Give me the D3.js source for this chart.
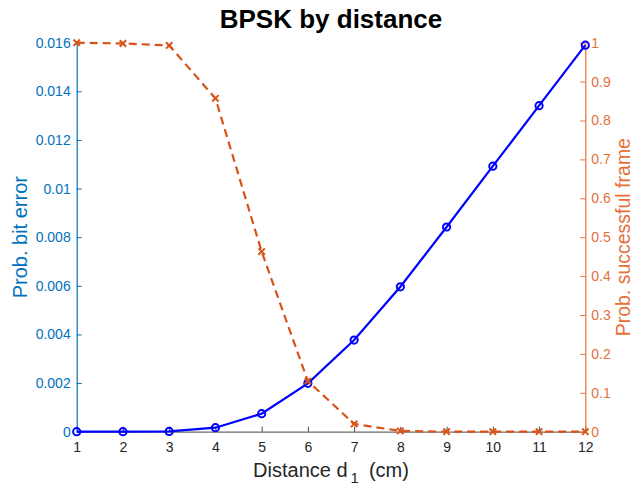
<!DOCTYPE html>
<html>
<head>
<meta charset="utf-8">
<script src="https://cdn.jsdelivr.net/npm/d3@7"></script>
<style>
  html, body { margin: 0; padding: 0; background: #fff; }
  svg { display: block; font-family: "Liberation Sans", Arial, Helvetica, sans-serif; }
</style>
</head>
<body>
<svg id="chart" width="634" height="486"></svg>
<script>
const distances = [1, 2, 3, 4, 5, 6, 7, 8, 9, 10, 11, 12];
const bitError = [0, 0, 0.00001, 0.000165, 0.00074, 0.00199, 0.00377, 0.00596, 0.00842, 0.01092, 0.01341, 0.0159];
const frameSuccess = [1.0, 0.998, 0.993, 0.857, 0.463, 0.13, 0.02, 0.002, 0, 0, 0, 0];
const leftTicks = [0, 0.002, 0.004, 0.006, 0.008, 0.01, 0.012, 0.014, 0.016];
const leftTickLabels = ["0", "0.002", "0.004", "0.006", "0.008", "0.01", "0.012", "0.014", "0.016"];
const rightTicks = [0, 0.1, 0.2, 0.3, 0.4, 0.5, 0.6, 0.7, 0.8, 0.9, 1];
const rightTickLabels = ["0", "0.1", "0.2", "0.3", "0.4", "0.5", "0.6", "0.7", "0.8", "0.9", "1"];
const xTicks = [1, 2, 3, 4, 5, 6, 7, 8, 9, 10, 11, 12];

const margin = { left: 76.7, right: 585.3, top: 42.7, bottom: 431.7 };
const blueAxis = "#0072BD";
const orange = "#D95319";
const orangeAxis = "#E5703A";

const svg = d3.select("#chart");
const x = d3.scaleLinear().domain([1, 12]).range([margin.left, margin.right]);
const yL = d3.scaleLinear().domain([0, 0.016]).range([margin.bottom, margin.top]);
const yR = d3.scaleLinear().domain([0, 1]).range([margin.bottom, margin.top]);

// X axis
const xAxis = d3.axisBottom(x).tickValues(xTicks).tickSizeInner(-5).tickSizeOuter(0).tickPadding(10).tickFormat(d3.format("d"));
const gx = svg.append("g").attr("transform", `translate(0,${margin.bottom})`).call(xAxis);
gx.select(".domain").attr("stroke", "#6b6b6b").attr("stroke-width", 1.2);
gx.selectAll(".tick line").attr("stroke", "#444");
gx.selectAll(".tick text").attr("fill", "#262626").attr("font-size", 14).attr("font-family", "Liberation Sans, Arial, sans-serif");

// Left axis
const yAxisL = d3.axisLeft(yL).tickValues(leftTicks).tickSizeInner(-5).tickSizeOuter(0).tickPadding(6)
  .tickFormat((d, i) => leftTickLabels[i]);
const gl = svg.append("g").attr("transform", `translate(${margin.left},0)`).call(yAxisL);
gl.select(".domain").attr("stroke", blueAxis).attr("stroke-width", 1.2);
gl.selectAll(".tick line").attr("stroke", blueAxis);
gl.selectAll(".tick text").attr("fill", blueAxis).attr("font-size", 14).attr("font-family", "Liberation Sans, Arial, sans-serif");

// Right axis
const yAxisR = d3.axisRight(yR).tickValues(rightTicks).tickSizeInner(-5).tickSizeOuter(0).tickPadding(6)
  .tickFormat((d, i) => rightTickLabels[i]);
const gr = svg.append("g").attr("transform", `translate(${margin.right},0)`).call(yAxisR);
gr.select(".domain").attr("stroke", orangeAxis).attr("stroke-width", 1.2);
gr.selectAll(".tick line").attr("stroke", orangeAxis);
gr.selectAll(".tick text").attr("fill", orangeAxis).attr("font-size", 14).attr("font-family", "Liberation Sans, Arial, sans-serif");

// Blue series
const blueData = distances.map((d, i) => ({ x: d, y: bitError[i] }));
svg.append("path").datum(blueData)
  .attr("fill", "none").attr("stroke", "#0000FF").attr("stroke-width", 2.2)
  .attr("d", d3.line().x(d => x(d.x)).y(d => yL(d.y)));
svg.append("g").selectAll("circle").data(blueData).join("circle")
  .attr("cx", d => x(d.x)).attr("cy", d => yL(d.y)).attr("r", 3.6)
  .attr("fill", "none").attr("stroke", "#0000FF").attr("stroke-width", 2);

// Orange series
const orangeData = distances.map((d, i) => ({ x: d, y: frameSuccess[i] }));
svg.append("path").datum(orangeData)
  .attr("fill", "none").attr("stroke", orange).attr("stroke-width", 2.2)
  .attr("stroke-dasharray", "8,5")
  .attr("d", d3.line().x(d => x(d.x)).y(d => yR(d.y)));
const m = 3.2;
const xm = svg.append("g").selectAll("g").data(orangeData).join("g")
  .attr("transform", d => `translate(${x(d.x)},${yR(d.y)})`);
xm.append("line").attr("x1", -m).attr("y1", -m).attr("x2", m).attr("y2", m).attr("stroke", orange).attr("stroke-width", 2);
xm.append("line").attr("x1", -m).attr("y1", m).attr("x2", m).attr("y2", -m).attr("stroke", orange).attr("stroke-width", 2);

// Title
svg.append("text").attr("x", (margin.left + margin.right) / 2).attr("y", 28)
  .attr("text-anchor", "middle").attr("font-size", 26).attr("font-weight", "bold").attr("fill", "#000")
  .text("BPSK by distance");

// X label with subscript
const xl = svg.append("text").attr("x", (margin.left + margin.right) / 2).attr("y", 477)
  .attr("text-anchor", "middle").attr("font-size", 20).attr("fill", "#262626");
xl.append("tspan").text("Distance d");
xl.append("tspan").attr("font-size", 15).attr("dy", 6).attr("dx", 3).text("1");
xl.append("tspan").attr("dy", -6).text("\u2002(cm)");

// Y labels
svg.append("text").attr("transform", `translate(27,${(margin.top + margin.bottom) / 2}) rotate(-90)`)
  .attr("text-anchor", "middle").attr("font-size", 20).attr("fill", blueAxis)
  .text("Prob. bit error");
svg.append("text").attr("transform", `translate(630,${(margin.top + margin.bottom) / 2}) rotate(-90)`)
  .attr("text-anchor", "middle").attr("font-size", 19.5).attr("fill", orangeAxis)
  .text("Prob. successful frame");
</script>
</body>
</html>
